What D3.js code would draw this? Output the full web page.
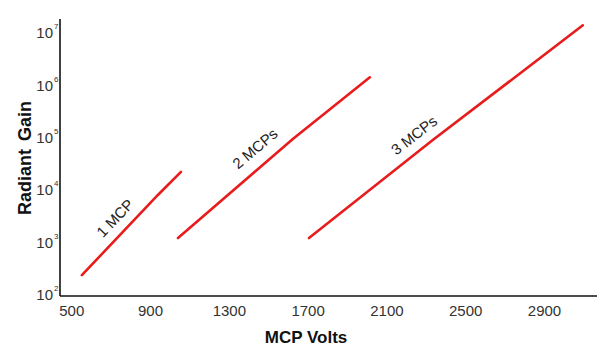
<!DOCTYPE html>
<html>
<head>
<meta charset="utf-8">
<script src="https://cdn.jsdelivr.net/npm/d3@7/dist/d3.min.js"></script>
<style>
  html, body { margin: 0; padding: 0; background: #fff; }
  svg { display: block; font-family: "Liberation Sans", Arial, sans-serif; }
</style>
</head>
<body>
<svg id="chart" width="614" height="355"></svg>
<script>
// ---- Data ----
const seriesNames = ["1 MCP", "2 MCPs", "3 MCPs"];
const oneMcpVolts = [554, 940, 1057];
const oneMcpGain = [250, 8500, 23400];
const twoMcpVolts = [1042, 1625, 2016];
const twoMcpGain = [1280, 100000, 1500000];
const threeMcpVolts = [1707, 2337, 3097];
const threeMcpGain = [1280, 96000, 14800000];
const xTickValues = [500, 900, 1300, 1700, 2100, 2500, 2900];
const yTickExponents = [2, 3, 4, 5, 6, 7];

const seriesVolts = [oneMcpVolts, twoMcpVolts, threeMcpVolts];
const seriesGain = [oneMcpGain, twoMcpGain, threeMcpGain];

// label anchors in data space
const labelVolts = [722, 1432, 2240];
const labelGain = [3090, 66000, 118000];

const svg = d3.select("#chart");

const x = d3.scaleLinear().domain([443, 3169]).range([60, 597]);
const y = d3.scaleLog().domain([100, Math.pow(10, 7.29)]).range([296, 19]);

// axes lines
svg.append("line")
  .attr("x1", x.range()[0]).attr("x2", x.range()[0])
  .attr("y1", y.range()[0]).attr("y2", y.range()[1])
  .attr("stroke", "#111").attr("stroke-width", 1.6);
svg.append("line")
  .attr("x1", x.range()[0]).attr("x2", x.range()[1])
  .attr("y1", y.range()[0]).attr("y2", y.range()[0])
  .attr("stroke", "#111").attr("stroke-width", 1.6);

// x tick labels via axis
const xAxis = d3.axisBottom(x).tickValues(xTickValues).tickSize(0).tickPadding(9)
  .tickFormat(d3.format("d"));
const gx = svg.append("g").attr("transform", `translate(0,${y.range()[0]})`).call(xAxis);
gx.select(".domain").remove();
gx.selectAll("text").attr("font-size", 15).attr("fill", "#333")
  .attr("font-family", "Liberation Sans, Arial, sans-serif");

// y tick labels (10^n)
const yTicks = svg.append("g");
yTickExponents.forEach(e => {
  const v = Math.pow(10, e);
  yTicks.append("text")
    .attr("x", 53).attr("y", y(v) + 4)
    .attr("text-anchor", "end")
    .attr("font-size", 15).attr("fill", "#333").text("10");
  yTicks.append("text")
    .attr("x", 54).attr("y", y(v) - 5)
    .attr("font-size", 8).attr("fill", "#333").text(String(e));
});

// lines
const line = d3.line().x(d => x(d[0])).y(d => y(d[1]));
seriesVolts.forEach((vs, i) => {
  const pts = vs.map((v, j) => [v, seriesGain[i][j]]);
  svg.append("path").datum(pts)
    .attr("d", line)
    .attr("fill", "none").attr("stroke", "#e81c1c")
    .attr("stroke-width", 2.6).attr("stroke-linecap", "round");
});

// series labels, rotated along each line
seriesNames.forEach((name, i) => {
  const vs = seriesVolts[i], gs = seriesGain[i];
  const dx = x(vs[vs.length - 1]) - x(vs[0]);
  const dy = y(gs[gs.length - 1]) - y(gs[0]);
  const ang = Math.atan2(dy, dx) * 180 / Math.PI;
  const lx = x(labelVolts[i]), ly = y(labelGain[i]);
  svg.append("text")
    .attr("transform", `translate(${lx},${ly}) rotate(${ang})`)
    .attr("text-anchor", "middle").attr("dominant-baseline", "central")
    .attr("font-size", 15).attr("fill", "#222").text(name);
});

// axis titles
svg.append("text")
  .attr("x", 306).attr("y", 343)
  .attr("text-anchor", "middle")
  .attr("font-size", 17).attr("font-weight", "bold").attr("fill", "#111")
  .text("MCP Volts");
svg.append("text")
  .attr("transform", `translate(31,158) rotate(-90)`)
  .attr("text-anchor", "middle")
  .attr("font-size", 18).attr("font-weight", "bold").attr("fill", "#111")
  .attr("word-spacing", 3)
  .text("Radiant Gain");
</script>
</body>
</html>
